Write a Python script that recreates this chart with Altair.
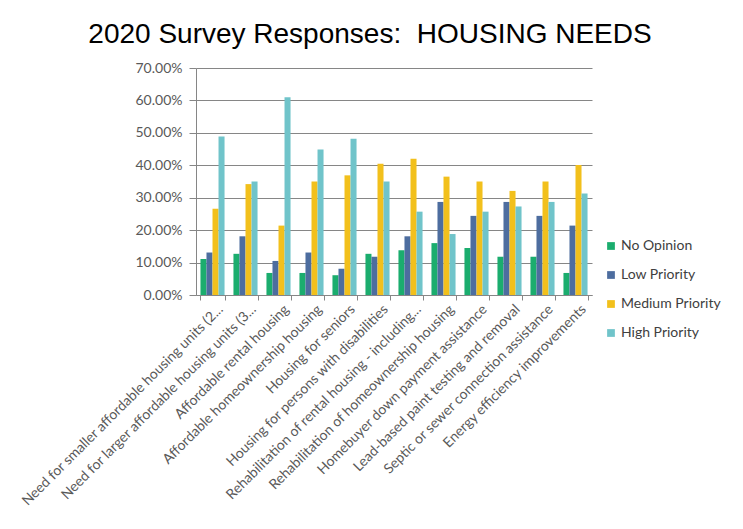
import altair as alt
import pandas as pd

categories = [
    "Need for smaller affordable housing units (2...",
    "Need for larger affordable housing units (3...",
    "Affordable rental housing",
    "Affordable homeownership housing",
    "Housing for seniors",
    "Housing for persons with disabilities",
    "Rehabilitation of rental housing - including...",
    "Rehabilitation of homeownership housing",
    "Homebuyer down payment assistance",
    "Lead-based paint testing and removal",
    "Septic or sewer connection assistance",
    "Energy efficiency improvements",
]
series = ["No Opinion", "Low Priority", "Medium Priority", "High Priority"]
no_opinion = [0.111, 0.127, 0.068, 0.068, 0.061, 0.127, 0.138, 0.160, 0.145, 0.118, 0.118, 0.068]
low_priority = [0.131, 0.181, 0.105, 0.131, 0.081, 0.118, 0.181, 0.287, 0.244, 0.287, 0.244, 0.214]
medium_priority = [0.266, 0.342, 0.214, 0.350, 0.369, 0.405, 0.420, 0.365, 0.350, 0.321, 0.350, 0.401]
high_priority = [0.489, 0.350, 0.610, 0.449, 0.482, 0.350, 0.257, 0.188, 0.257, 0.273, 0.287, 0.313]
colors = ["#1bad6e", "#4d6d9f", "#f2c01c", "#70c4ca"]

rows = []
for s, vals in zip(series, [no_opinion, low_priority, medium_priority, high_priority]):
    for c, v in zip(categories, vals):
        rows.append({"Category": c, "Series": s, "Value": v})
df = pd.DataFrame(rows)

font = "Lato"
fs = 14
chart = alt.Chart(df).mark_bar().encode(
    x=alt.X("Category:N", sort=categories, title=None,
            scale=alt.Scale(paddingInner=0.27, paddingOuter=0.135),
            axis=alt.Axis(labelAngle=-45, labelFont=font, labelFontSize=fs,
                          labelColor="#595959", tickBand="extent", tickColor="#868686",
                          domainColor="#868686", tickSize=5, labelLimit=400,
                          labelPadding=2, labelOffset=3)),
    xOffset=alt.XOffset("Series:N", sort=series, scale=alt.Scale(paddingInner=0, paddingOuter=0)),
    y=alt.Y("Value:Q", title=None,
            scale=alt.Scale(domain=[0, 0.7]),
            axis=alt.Axis(format=".2%", values=[0, 0.1, 0.2, 0.3, 0.4, 0.5, 0.6, 0.7],
                          labelFont=font, labelFontSize=fs, labelColor="#595959",
                          gridColor="#868686", gridWidth=1, tickColor="#868686",
                          domainColor="#868686", tickSize=7, labelPadding=7)),
    color=alt.Color("Series:N", sort=series,
                    scale=alt.Scale(domain=series, range=colors),
                    legend=alt.Legend(title=None, orient="none", legendX=408, legendY=171,
                                      symbolType="square", symbolSize=60, symbolStrokeWidth=0,
                                      labelFont=font, labelFontSize=fs, labelColor="#404040",
                                      rowPadding=15, symbolOffset=0, labelOffset=3)),
).properties(
    width=396, height=227,
    title=alt.TitleParams("2020 Survey Responses:\u00a0\u00a0HOUSING NEEDS", font="Liberation Sans",
                          fontSize=28, fontWeight="normal", color="#000000",
                          anchor="middle", dx=-24, offset=12),
    autosize=alt.AutoSizeParams(type="none"),
    padding={"left": 188, "top": 60, "right": 140, "bottom": 224},
).configure_view(stroke=None)

chart.save("out.html", embed_options={"renderer": "svg", "actions": False})
